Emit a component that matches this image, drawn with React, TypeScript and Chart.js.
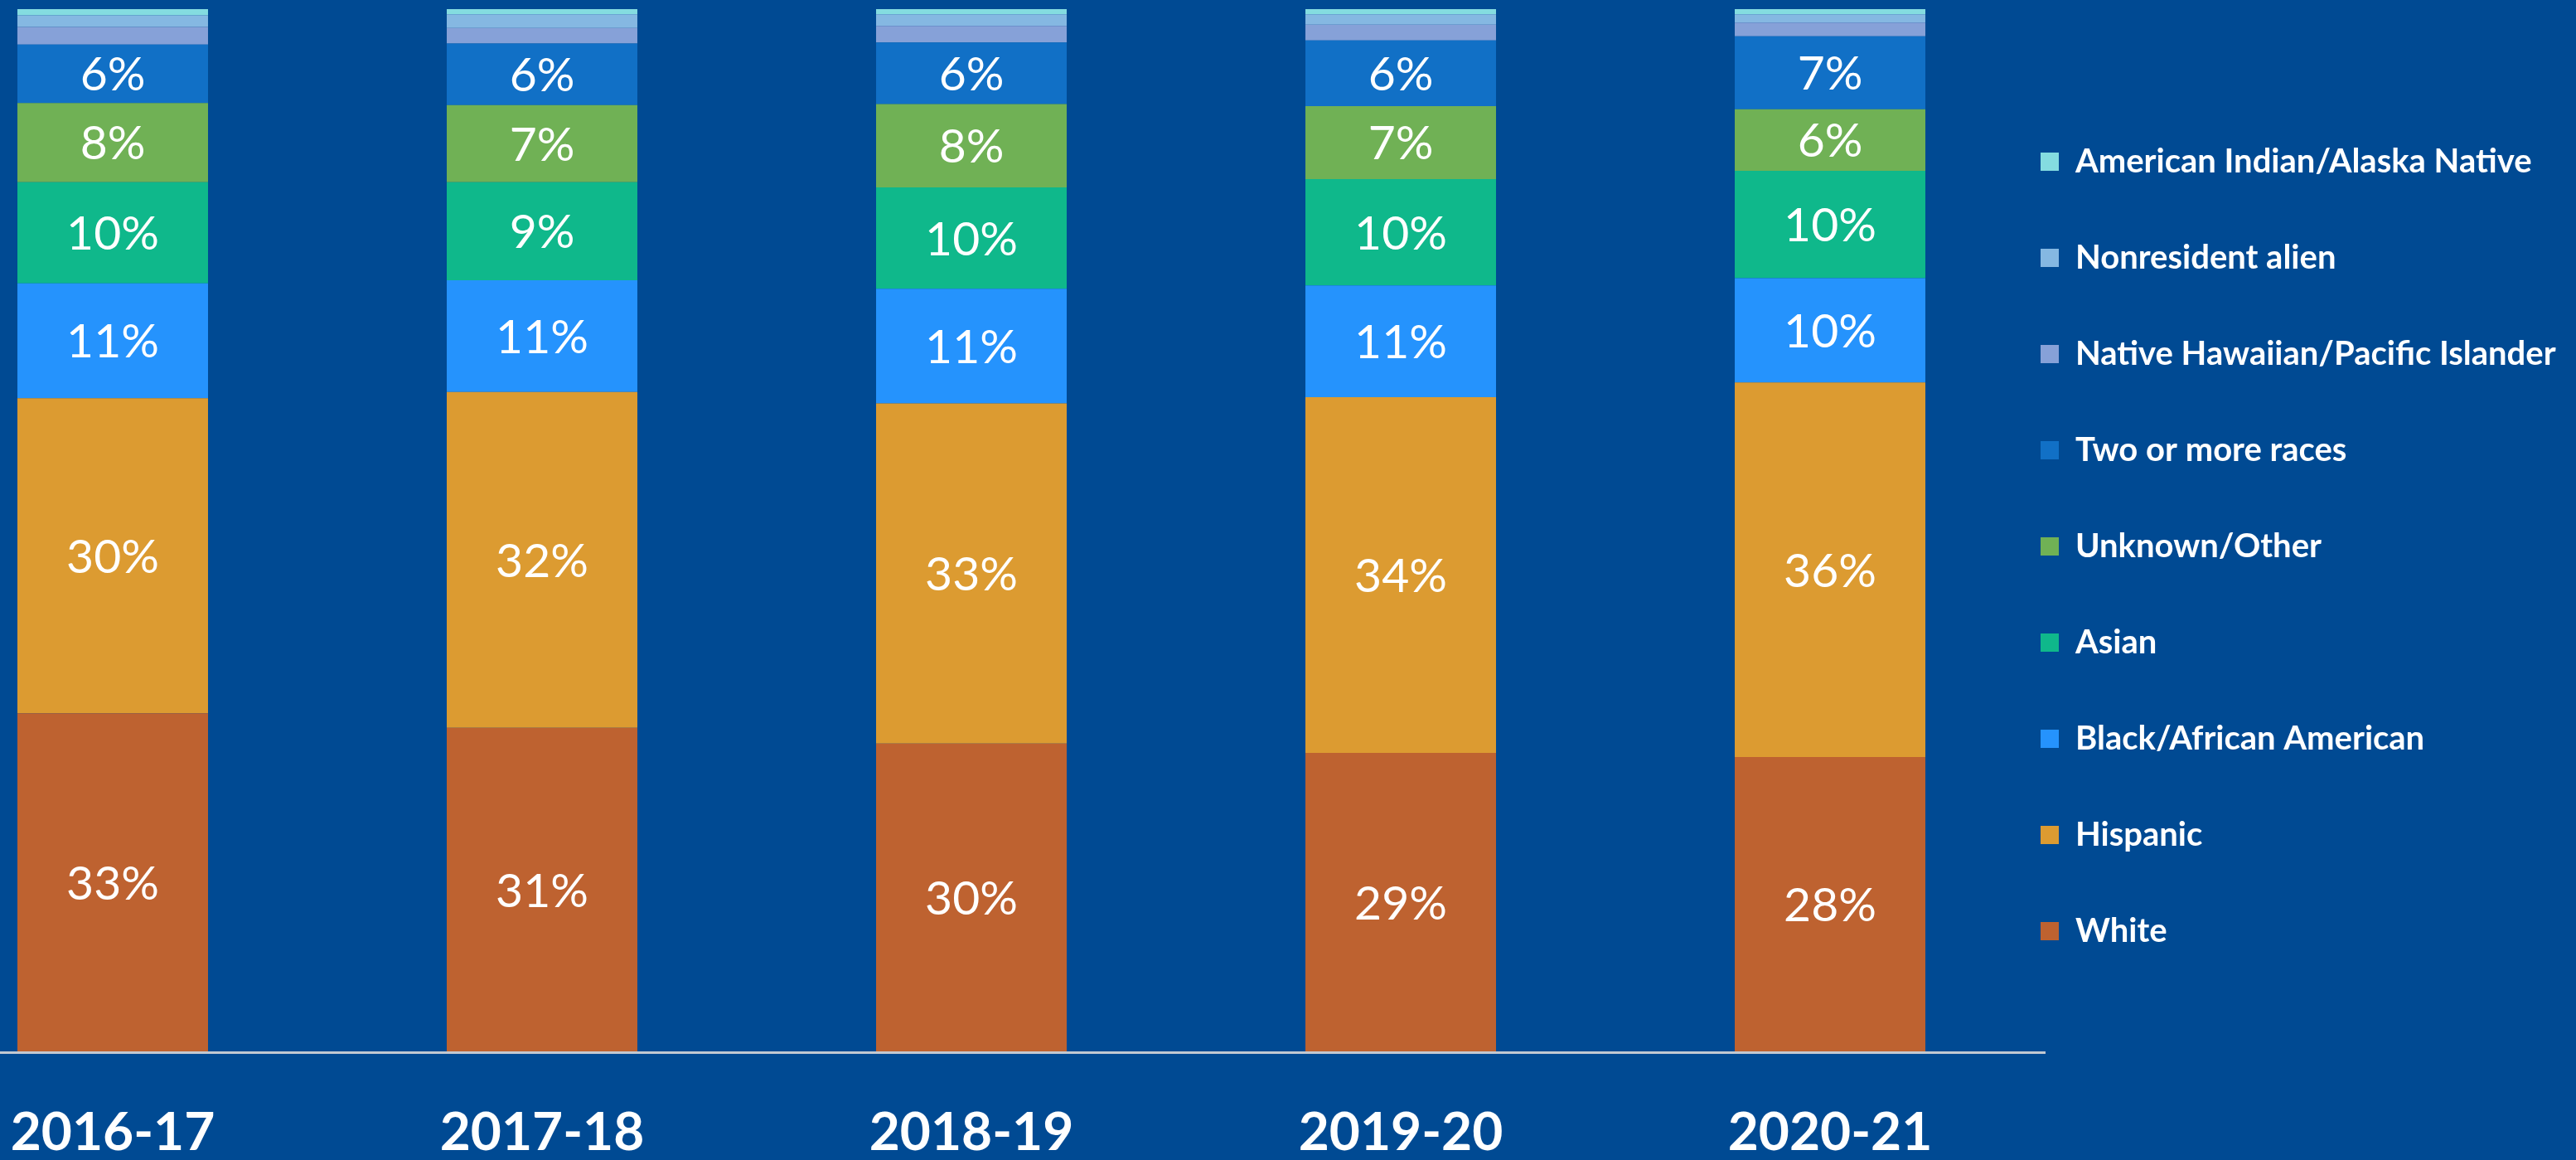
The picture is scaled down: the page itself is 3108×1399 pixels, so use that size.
import React, { useEffect, useRef } from 'react';
import { Chart, registerables } from 'chart.js';

Chart.register(...registerables);

// ---- Data (percent of total) ----
const categories = ['2016-17', '2017-18', '2018-19', '2019-20', '2020-21'];

const white = [32.5, 31.1, 29.6, 28.7, 28.3];
const hispanic = [30.2, 32.2, 32.6, 34.1, 35.9];
const blackAfricanAmerican = [11.0, 10.7, 11.0, 10.7, 10.0];
const asian = [9.7, 9.4, 9.7, 10.2, 10.3];
const unknownOther = [7.6, 7.4, 8.0, 7.0, 5.9];
const twoOrMoreRaces = [5.6, 5.9, 5.9, 6.3, 7.0];
const nativeHawaiian = [1.7, 1.5, 1.6, 1.5, 1.3];
const nonresidentAlien = [1.1, 1.3, 1.1, 1.0, 0.8];
const americanIndian = [0.6, 0.5, 0.5, 0.5, 0.5];

const seriesNames = [
  'White',
  'Hispanic',
  'Black/African American',
  'Asian',
  'Unknown/Other',
  'Two or more races',
  'Native Hawaiian/Pacific Islander',
  'Nonresident alien',
  'American Indian/Alaska Native',
];
const seriesValues = [
  white,
  hispanic,
  blackAfricanAmerican,
  asian,
  unknownOther,
  twoOrMoreRaces,
  nativeHawaiian,
  nonresidentAlien,
  americanIndian,
];
const seriesColors = [
  '#be6230',
  '#dc9b31',
  '#2593fd',
  '#0fb88b',
  '#70b155',
  '#1170c6',
  '#86a1d8',
  '#85b8e2',
  '#84dce0',
];

// ---- Styling / layout constants ----
const BG = '#004a93';
const FONT = 'Lato';
const LEGEND_PAD = 76;
const LEGEND_X = 2462;
const LEGEND_FIRST_TOP = 175;
const UNIT_PX = 518;
const FIRST_BAR_PX = 136;
const AXIS_END_PX = 2467;
const CANVAS_W = 3108;
const X_MIN = -FIRST_BAR_PX / UNIT_PX;
const X_MAX = (AXIS_END_PX - FIRST_BAR_PX) / UNIT_PX;

const segmentLabels = {
  id: 'segmentLabels',
  afterDatasetsDraw(chart: any) {
    const ctx = chart.ctx;
    ctx.save();
    ctx.font = `normal 57px ${FONT}`;
    ctx.fillStyle = '#ffffff';
    ctx.textAlign = 'center';
    ctx.textBaseline = 'middle';
    chart.data.datasets.forEach((ds: any, di: number) => {
      const meta = chart.getDatasetMeta(di);
      meta.data.forEach((el: any, i: number) => {
        const v = ds.data[i].y;
        if (v < 4) return;
        const p = el.getProps(['x', 'y', 'base'], true);
        ctx.fillText(Math.round(v) + '%', p.x, (p.y + p.base) / 2 + 2);
      });
    });
    ctx.restore();
  },
};

const legendPlacer = {
  id: 'legendPlacer',
  afterLayout(chart: any) {
    const lg = chart.legend;
    if (!lg) return;
    lg.left = LEGEND_X - LEGEND_PAD;
    lg.right = CANVAS_W;
    lg.width = lg.right - lg.left;
    const h = lg.height;
    lg.top = LEGEND_FIRST_TOP - LEGEND_PAD;
    lg.bottom = lg.top + h;
  },
};

export default function App() {
  const canvasRef = useRef<HTMLCanvasElement | null>(null);

  useEffect(() => {
    document.body.style.margin = '0';
    document.body.style.background = BG;
    let chart: Chart | null = null;
    let cancelled = false;

    const build = () => {
      if (cancelled || !canvasRef.current) return;
      const datasets = seriesNames.map((name, si) => ({
        label: name,
        data: categories.map((_, i) => ({ x: i, y: seriesValues[si][i] })),
        backgroundColor: seriesColors[si],
        borderWidth: 0,
        categoryPercentage: 1,
        barPercentage: 0.444,
      }));

      chart = new Chart(canvasRef.current, {
        type: 'bar',
        data: { datasets } as any,
        plugins: [segmentLabels, legendPlacer],
        options: {
          animation: false,
          responsive: true,
          maintainAspectRatio: false,
          layout: { padding: { top: 11, left: 0, right: 0, bottom: 0 }, autoPadding: false },
          plugins: {
            tooltip: { enabled: false },
            legend: {
              position: 'right',
              align: 'start',
              reverse: true,
              maxWidth: CANVAS_W - AXIS_END_PX,
              labels: {
                color: '#ffffff',
                font: { family: FONT, weight: 'bold', size: 40 },
                boxWidth: 22,
                boxHeight: 22,
                padding: LEGEND_PAD,
              },
            },
          },
          scales: {
            x: {
              type: 'linear',
              stacked: true,
              offset: false,
              bounds: 'data',
              min: X_MIN,
              max: X_MAX,
              afterBuildTicks: (scale: any) => {
                scale.ticks = categories.map((_, i) => ({ value: i }));
                scale.min = X_MIN;
                scale.max = X_MAX;
              },
              afterFit: (scale: any) => {
                scale.height = 130;
                scale.paddingLeft = 0;
                scale.paddingRight = 0;
              },
              grid: { display: false, drawTicks: false, offset: false },
              border: { display: true, color: '#c3c9d2', width: 3, z: 1 },
              ticks: {
                color: '#ffffff',
                padding: 59,
                maxRotation: 0,
                autoSkip: false,
                font: { family: FONT, weight: 'bold', size: 64 },
                callback: (v: any) => categories[Math.round(Number(v))] ?? '',
              },
            },
            y: {
              display: false,
              stacked: true,
              min: 0,
              max: 100,
            },
          },
        } as any,
      });
    };

    const fontsReady = (document as any).fonts
      ? Promise.all([
          (document as any).fonts.load(`bold 64px ${FONT}`),
          (document as any).fonts.load(`normal 57px ${FONT}`),
          (document as any).fonts.load(`bold 40px ${FONT}`),
        ]).catch(() => null)
      : Promise.resolve(null);
    fontsReady.then(build);

    return () => {
      cancelled = true;
      if (chart) chart.destroy();
    };
  }, []);

  return (
    <div style={{ width: '3108px', height: '1399px', background: BG, position: 'relative' }}>
      <canvas ref={canvasRef} style={{ background: BG }} />
    </div>
  );
}
